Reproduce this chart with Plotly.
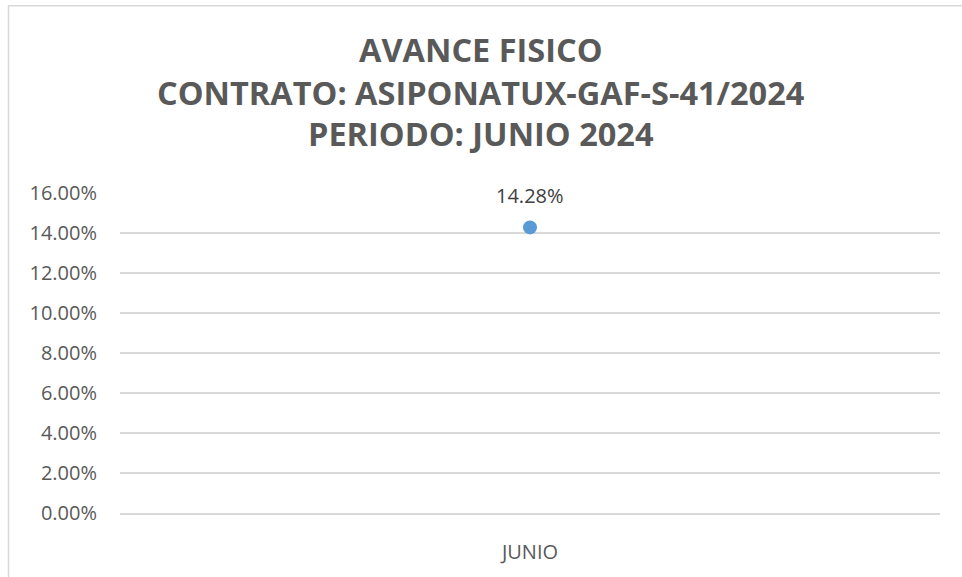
import plotly.graph_objects as go

categories = ["JUNIO"]
avance = [0.1428]
y_ticks = [0, 0.02, 0.04, 0.06, 0.08, 0.10, 0.12, 0.14, 0.16]
title_lines = ["AVANCE FISICO", "CONTRATO: ASIPONATUX-GAF-S-41/2024", "PERIODO: JUNIO 2024"]

W, H = 962, 577
L, R, T, B = 120, 22, 193, 60
pw, ph = W - L - R, H - T - B

def px_to_paper_y(py):
    return (H - B - py) / ph

def px_to_paper_x(px):
    return (px - L) / pw

fig = go.Figure()
fig.add_trace(go.Scatter(
    x=categories, y=avance, mode="markers",
    marker=dict(color="#5B9BD5", size=14),
    hoverinfo="skip", showlegend=False,
))

annotations = []
for cat, v in zip(categories, avance):
    annotations.append(dict(
        x=cat, y=v, xref="x", yref="y", text=f"{v*100:.2f}%", showarrow=False,
        yshift=32, font=dict(family="Open Sans", size=20, color="#404040"),
    ))

for line, py in zip(title_lines, [48, 91, 133]):
    annotations.append(dict(
        x=px_to_paper_x(481), y=px_to_paper_y(py), xref="paper", yref="paper",
        text=f"<b>{line}</b>", showarrow=False, xanchor="center", yanchor="middle",
        font=dict(family="Open Sans", size=32.5, color="#595959"),
    ))

fig.update_layout(
    width=W, height=H,
    margin=dict(l=L, r=R, t=T, b=B),
    paper_bgcolor="white", plot_bgcolor="white",
    annotations=annotations,
    shapes=[dict(
        type="rect", xref="paper", yref="paper",
        x0=px_to_paper_x(8.5), x1=px_to_paper_x(980),
        y0=px_to_paper_y(600), y1=px_to_paper_y(3.5),
        line=dict(color="#D9D9D9", width=1.5), fillcolor="rgba(0,0,0,0)", layer="below",
    )],
)
fig.update_yaxes(
    range=[0, 0.16], tickvals=y_ticks, tickformat=".2%",
    showgrid=True, gridcolor="#D9D9D9", gridwidth=1.5, zeroline=False,
    showline=False, ticks="", ticklabelstandoff=22,
    tickfont=dict(family="Open Sans", size=20, color="#595959"),
)
fig.update_xaxes(
    type="category", range=[-0.5, 0.5], showgrid=False, zeroline=False,
    showline=True, linecolor="#D9D9D9", linewidth=1.5, ticks="", ticklabelstandoff=20,
    tickfont=dict(family="Open Sans", size=20, color="#595959"),
)

fig.write_html("out.html")
